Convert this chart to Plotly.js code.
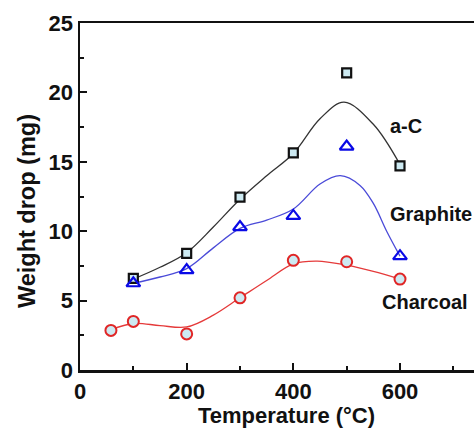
<!DOCTYPE html>
<html>
<head>
<meta charset="utf-8">
<script src="https://cdn.plot.ly/plotly-3.0.1.min.js"></script>
<style>html,body{margin:0;padding:0;background:#fff;}#chart{width:474px;height:428px;}</style>
</head>
<body>
<div id="chart"></div>
<script>
// Measured points
const temps = [100, 200, 300, 400, 500, 600];
const aC = [6.6, 8.4, 12.45, 15.65, 21.4, 14.7];
const graphite = [6.25, 7.2, 10.3, 11.1, 16.1, 8.2];
const charcoalT = [58, 100, 200, 300, 400, 500, 600];
const charcoal = [2.85, 3.5, 2.6, 5.2, 7.9, 7.8, 6.55];

// Fitted curves
const aCFitT = [100, 150, 200, 250, 300, 350, 400, 450, 495, 550, 600];
const aCFit = [6.55, 7.4, 8.45, 10.3, 12.3, 14.0, 15.6, 18.1, 19.3, 17.7, 14.8];
const grFitT = [100, 150, 200, 250, 300, 350, 400, 450, 488, 525, 550, 575, 600];
const grFit = [6.25, 6.7, 7.3, 8.8, 10.2, 10.8, 11.6, 13.4, 14.0, 13.3, 12.0, 10.0, 8.2];
const chFitT = [58, 100, 150, 200, 250, 300, 350, 400, 445, 500, 550, 600];
const chFit = [2.9, 3.35, 3.2, 3.1, 3.95, 5.2, 6.45, 7.65, 7.85, 7.55, 7.1, 6.55];

const labels = ['a-C', 'Graphite', 'Charcoal'];
const labelX = [577, 577, 562];
const labelY = [17.55, 11.25, 4.9];

const xTicks = [0, 200, 400, 600];
const yTicks = [0, 5, 10, 15, 20, 25];

const xTitle = 'Temperature (°C)';
const yTitle = 'Weight drop (mg)';

const fontFam = '"Liberation Sans", Arial, sans-serif';
const fill = '#cdeaf2';

const traces = [
  {x: aCFitT, y: aCFit, mode: 'lines', line: {shape: 'spline', color: '#333333', width: 1.3}, hoverinfo: 'skip'},
  {x: grFitT, y: grFit, mode: 'lines', line: {shape: 'spline', color: '#4a4ad8', width: 1.3}, hoverinfo: 'skip'},
  {x: chFitT, y: chFit, mode: 'lines', line: {shape: 'spline', color: '#e53a3a', width: 1.3}, hoverinfo: 'skip'},
  {x: temps, y: aC, mode: 'markers', marker: {symbol: 'square', size: 9, color: fill, line: {color: '#111111', width: 2.2}}},
  {x: temps, y: graphite, mode: 'markers', marker: {symbol: 'triangle-up-open', size: 12, color: '#0a0ae6', line: {color: '#0a0ae6', width: 2.2}}},
  {x: charcoalT, y: charcoal, mode: 'markers', marker: {symbol: 'circle', size: 11, color: fill, line: {color: '#e02626', width: 2}}}
];

const annotations = labels.map((t, i) => ({
  x: labelX[i], y: labelY[i], xref: 'x', yref: 'y', text: '<b>' + t + '</b>',
  showarrow: false, xanchor: 'left', yanchor: 'middle',
  font: {family: fontFam, size: 20, color: '#111111'}
}));
annotations.push({
  x: 0.524, y: -0.131, xref: 'paper', yref: 'paper', text: '<b>' + xTitle + '</b>',
  showarrow: false, xanchor: 'center', yanchor: 'middle',
  font: {family: fontFam, size: 22, color: '#111111'}
});
annotations.push({
  x: -0.1345, y: 0.458, xref: 'paper', yref: 'paper', text: '<b>' + yTitle + '</b>',
  showarrow: false, xanchor: 'center', yanchor: 'middle', textangle: -90,
  font: {family: fontFam, size: 23.5, color: '#111111'}
});

const layout = {
  width: 474, height: 428,
  margin: {l: 80, r: 0, t: 23, b: 58},
  paper_bgcolor: '#ffffff', plot_bgcolor: '#ffffff',
  showlegend: false,
  font: {family: fontFam, color: '#111111'},
  xaxis: {
    range: [0, 738.75], showgrid: false, zeroline: false,
    showline: true, linecolor: '#111111', linewidth: 2.5, mirror: true,
    tickmode: 'array', tickvals: xTicks, ticktext: xTicks.map(v => '<b>' + v + '</b>'),
    ticks: 'inside', ticklen: 7, tickwidth: 2, tickcolor: '#111111',
    minor: {dtick: 100, tick0: 0, ticks: 'inside', ticklen: 4, tickwidth: 2, tickcolor: '#111111'},
    tickfont: {family: fontFam, size: 22, color: '#111111'},
    automargin: false
  },
  yaxis: {
    range: [0, 25], showgrid: false, zeroline: false,
    showline: true, linecolor: '#111111', linewidth: 2.5, mirror: false,
    tickmode: 'array', tickvals: yTicks, ticktext: yTicks.map(v => '<b>' + v + '</b>'),
    ticks: 'inside', ticklen: 7, tickwidth: 2, tickcolor: '#111111',
    minor: {dtick: 2.5, tick0: 0, ticks: 'inside', ticklen: 4, tickwidth: 2, tickcolor: '#111111'},
    tickfont: {family: fontFam, size: 22, color: '#111111'},
    automargin: false
  },
  annotations: annotations
};

Plotly.newPlot('chart', traces, layout, {displayModeBar: false, staticPlot: true});
</script>
</body>
</html>
